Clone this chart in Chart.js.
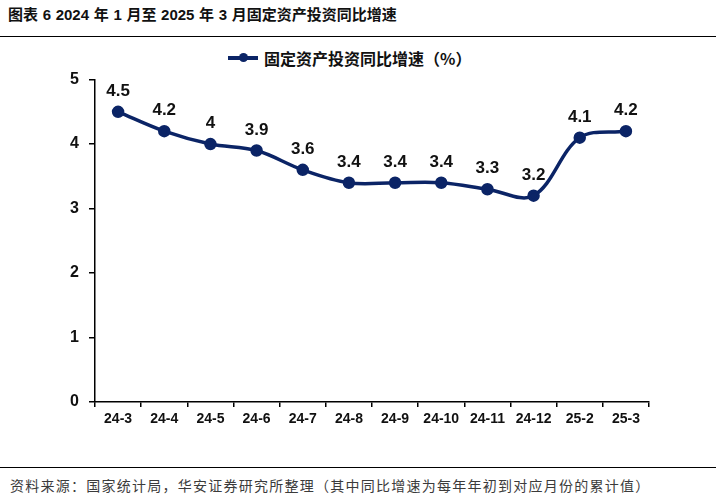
<!DOCTYPE html>
<html>
<head>
<meta charset="utf-8">
<script src="https://cdn.jsdelivr.net/npm/chart.js@4.4.0/dist/chart.umd.min.js"></script>
<style>
  html, body { margin: 0; padding: 0; background: #fff; }
  body { width: 716px; height: 502px; position: relative; overflow: hidden;
         font-family: "Liberation Sans", Arial, "Noto Sans CJK SC", sans-serif; }
  .title { position: absolute; left: 8px; top: 3px; font-size: 15px; font-weight: bold; color: #111;
           font-family: "Liberation Sans", "Noto Sans CJK SC", sans-serif; word-spacing: 0.5px; }
  .rule { position: absolute; left: 0; width: 716px; height: 0; border-top: 1.5px solid #000; }
  .legend { position: absolute; top: 47px; left: 228px; height: 22px; display: flex; align-items: center;
            font-size: 16px; font-weight: bold; color: #111; font-family: "Noto Sans CJK SC", sans-serif; }
  .legend .swatch { position: relative; width: 30px; height: 4px; background: #0b2466; margin-right: 6px; }
  .legend .swatch::after { content: ""; position: absolute; left: 11px; top: -3px; width: 9px; height: 9px;
                           border-radius: 50%; background: #0b2466; }
  .source { position: absolute; left: 10px; top: 475px; font-size: 14px; letter-spacing: 1.25px; color: #3b3b3b;
            font-family: "Noto Sans CJK SC", sans-serif; }
  #wrap { position: absolute; left: 0; top: 60px; width: 716px; height: 380px; }
</style>
</head>
<body>
<div class="title">图表 6 2024 年 1 月至 2025 年 3 月固定资产投资同比增速</div>
<div class="rule" style="top:36px"></div>
<div class="legend"><span class="swatch"></span>固定资产投资同比增速（%）</div>
<div id="wrap"><canvas id="chart"></canvas></div>
<div class="rule" style="top:467px"></div>
<div class="source">资料来源：国家统计局，华安证券研究所整理（其中同比增速为每年年初到对应月份的累计值）</div>
<script>
const months = ["24-3", "24-4", "24-5", "24-6", "24-7", "24-8", "24-9", "24-10", "24-11", "24-12", "25-2", "25-3"];
const growth = [4.5, 4.2, 4.0, 3.9, 3.6, 3.4, 3.4, 3.4, 3.3, 3.2, 4.1, 4.2];
const yTicks = [0, 1, 2, 3, 4, 5];

const valueLabels = {
    id: "valueLabels",
    afterDatasetsDraw(chart) {
        const ctx = chart.ctx;
        const meta = chart.getDatasetMeta(0);
        ctx.save();
        ctx.font = "bold 17px 'Liberation Sans', Arial, sans-serif";
        ctx.fillStyle = "#111";
        ctx.textAlign = "center";
        ctx.textBaseline = "bottom";
        meta.data.forEach((pt, i) => {
            ctx.fillText(String(growth[i]), pt.x, pt.y - 12);
        });
        ctx.restore();
    },
};

new Chart(document.getElementById("chart"), {
    type: "line",
    data: {
        labels: months,
        datasets: [{
            label: "固定资产投资同比增速（%）",
            data: growth,
            borderColor: "#0b2466",
            backgroundColor: "#0b2466",
            borderWidth: 3.5,
            pointRadius: 4.5,
            pointHoverRadius: 4.5,
            tension: 0.35,
        }],
    },
    options: {
        responsive: true,
        maintainAspectRatio: false,
        animation: false,
        layout: { padding: { top: 18, right: 67, bottom: 8, left: 0 } },
        plugins: { legend: { display: false }, tooltip: { enabled: false } },
        scales: {
            x: {
                offset: true,
                afterFit: (s) => { s.height = 30; },
                border: { display: true, color: "#000", width: 1.5 },
                grid: { display: true, offset: true, drawOnChartArea: false, drawTicks: true,
                        tickLength: 5, color: "#000", lineWidth: 1.5 },
                ticks: { color: "#111", padding: 4, maxRotation: 0, autoSkip: false,
                         font: { family: "'Liberation Sans', Arial, sans-serif", size: 14, weight: "bold" } },
            },
            y: {
                min: 0,
                max: 5,
                afterFit: (s) => { s.width = 95; },
                afterBuildTicks: (s) => { s.ticks = yTicks.map((v) => ({ value: v })); },
                border: { display: true, color: "#000", width: 1.5 },
                grid: { display: true, drawOnChartArea: false, drawTicks: true,
                        tickLength: 6, color: "#000", lineWidth: 1.5 },
                ticks: { color: "#111", padding: 10,
                         font: { family: "'Liberation Sans', Arial, sans-serif", size: 16, weight: "bold" } },
            },
        },
    },
    plugins: [valueLabels],
});
</script>
</body>
</html>
